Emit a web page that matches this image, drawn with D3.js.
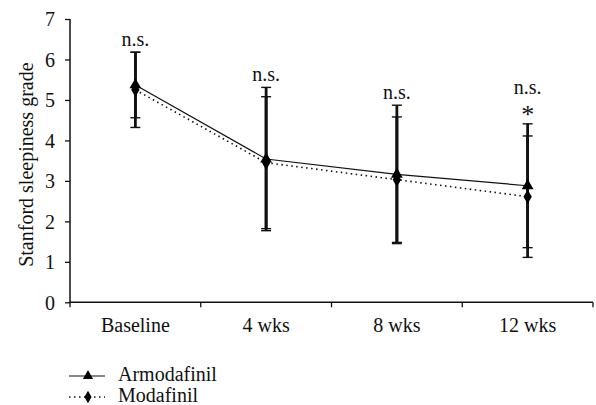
<!DOCTYPE html>
<html>
<head>
<meta charset="utf-8">
<script src="https://cdn.jsdelivr.net/npm/d3@7"></script>
<style>
    body { margin: 0; background: #fff; }
</style>
</head>
<body>
<svg id="chart" width="596" height="405"></svg>
<script>
'use strict';

// chart values
const categories = ['Baseline', '4 wks', '8 wks', '12 wks'];
const armodafinil = [5.37, 3.54, 3.16, 2.88];
const armodafinilSd = [0.81, 1.77, 1.71, 1.53];
const modafinil = [5.25, 3.45, 3.03, 2.61];
const modafinilSd = [0.93, 1.63, 1.55, 1.50];
const notes = [['n.s.'], ['n.s.'], ['n.s.'], ['*', 'n.s.']];
const yTicks = [0, 1, 2, 3, 4, 5, 6, 7];

const FONT = '"Liberation Serif", "Times New Roman", "DejaVu Serif", serif';

const svg = d3.select('#chart');
const x = d3.scaleBand().domain(categories).range([70, 593]);
const y = d3.scaleLinear().domain([0, 7]).range([302.3, 19]);
const cx = c => x(c) + x.bandwidth() / 2;

const series = [
    { name: 'Armodafinil', values: armodafinil, sd: armodafinilSd, dash: null, symbol: d3.symbolTriangle },
    { name: 'Modafinil', values: modafinil, sd: modafinilSd, dash: '1.5,3.5', symbol: d3.symbolDiamond }
];

function label(sel, size) {
    return sel.attr('font-family', FONT).style('font-family', FONT)
        .style('font-size', size + 'px').attr('fill', '#111');
}

// y axis
const yAxis = svg.append('g')
    .attr('transform', 'translate(70,0)')
    .call(d3.axisLeft(y).tickValues(yTicks).tickFormat(d3.format('d')).tickSize(5).tickPadding(10));
yAxis.attr('font-family', FONT);
yAxis.select('.domain').attr('stroke', '#111').attr('stroke-width', 1.5).attr('d', `M0,${y(7)}V${y(0)}`);
yAxis.selectAll('.tick line').attr('stroke', '#111').attr('stroke-width', 1.3);
label(yAxis.selectAll('.tick text'), 20).attr('dy', '0.34em');

// x axis: labels under band centres, ticks on band edges
const xAxis = svg.append('g').attr('transform', `translate(0,${y(0)})`);
xAxis.append('line')
    .attr('x1', x.range()[0]).attr('x2', x.range()[1])
    .attr('stroke', '#111').attr('stroke-width', 1.5);
xAxis.selectAll('.edge')
    .data(categories.map(c => x(c)).concat([x.range()[1]]))
    .join('line')
    .attr('x1', d => d).attr('x2', d => d)
    .attr('y1', 0).attr('y2', 5)
    .attr('stroke', '#111').attr('stroke-width', 1.3);
label(xAxis.selectAll('.label')
    .data(categories)
    .join('text')
    .attr('x', cx).attr('y', 29.5)
    .attr('text-anchor', 'middle'), 20)
    .text(d => d);

// y title
label(svg.append('text')
    .attr('transform', `translate(33,${(y(0) + y(7)) / 2 + 4}) rotate(-90)`)
    .attr('text-anchor', 'middle'), 20)
    .text('Stanford sleepiness grade');

// error bars
series.forEach(s => {
    const g = svg.append('g');
    categories.forEach((c, i) => {
        const hi = y(s.values[i] + s.sd[i]);
        const lo = y(s.values[i] - s.sd[i]);
        g.append('line')
            .attr('x1', cx(c)).attr('x2', cx(c)).attr('y1', hi).attr('y2', lo)
            .attr('stroke', '#111').attr('stroke-width', 2.8);
        [hi, lo].forEach(v => {
            g.append('line')
                .attr('x1', cx(c) - 5).attr('x2', cx(c) + 5).attr('y1', v).attr('y2', v)
                .attr('stroke', '#111').attr('stroke-width', 1.4);
        });
    });
});

// lines and markers
const line = d3.line().x((d, i) => cx(categories[i])).y(d => y(d));
series.forEach(s => {
    svg.append('path')
        .attr('d', line(s.values))
        .attr('fill', 'none')
        .attr('stroke', '#111')
        .attr('stroke-width', s.dash ? 1.6 : 1.2)
        .attr('stroke-dasharray', s.dash);
    svg.selectAll(null)
        .data(s.values)
        .join('path')
        .attr('transform', (d, i) => `translate(${cx(categories[i])},${y(d)})`)
        .attr('d', d3.symbol().type(s.symbol).size(60))
        .attr('fill', '#000');
});

// significance notes, stacked above the highest cap
categories.forEach((c, i) => {
    const top = Math.min(y(armodafinil[i] + armodafinilSd[i]), y(modafinil[i] + modafinilSd[i]));
    notes[i].forEach((t, k) => {
        label(svg.append('text')
            .attr('x', cx(c))
            .attr('y', t === '*' ? top - 1 : top - 6 - k * 24)
            .attr('text-anchor', 'middle'), t === '*' ? 26 : 20)
            .text(t);
    });
});

// legend
const legend = svg.append('g');
series.forEach((s, i) => {
    const ly = 376 + i * 21;
    legend.append('line')
        .attr('x1', 69).attr('x2', 105).attr('y1', ly).attr('y2', ly)
        .attr('stroke', '#111')
        .attr('stroke-width', s.dash ? 1.6 : 1.2)
        .attr('stroke-dasharray', s.dash);
    legend.append('path')
        .attr('transform', `translate(88,${ly})`)
        .attr('d', d3.symbol().type(s.symbol).size(45))
        .attr('fill', '#000');
    label(legend.append('text')
        .attr('x', 118).attr('y', ly + 5), 20)
        .text(s.name);
});
</script>
</body>
</html>
